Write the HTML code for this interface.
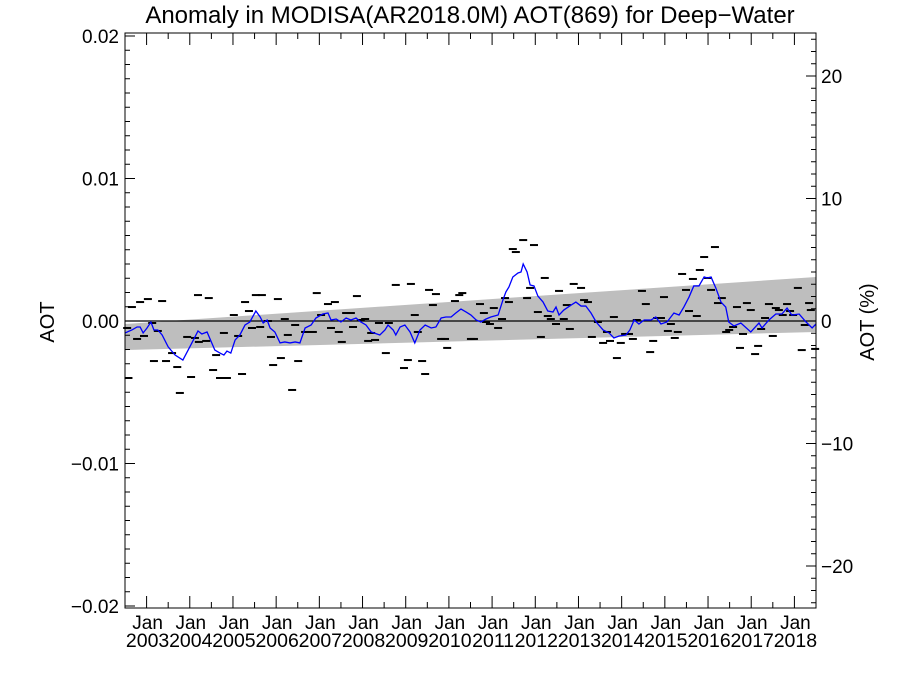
<!DOCTYPE html>
<html><head><meta charset="utf-8"><style>
body{margin:0;background:#fff}
svg{display:block;font-family:"Liberation Sans",sans-serif}
</style></head><body>
<svg id="chart" width="900" height="675">
<text x="470" y="23" text-anchor="middle" font-size="24">Anomaly in MODISA(AR2018.0M) AOT(869) for Deep−Water</text>
<text transform="translate(54,322) rotate(-90)" text-anchor="middle" font-size="20">AOT</text>
<text transform="translate(874,322) rotate(-90)" text-anchor="middle" font-size="20">AOT (%)</text>
<g id="plot"></g>
</svg>
<script>
const bandYears=[2002.5,2018.5];
const bandTop=[-0.21e-3,3.09e-3];
const bandBottom=[-2.04e-3,-0.77e-3];
const lineYears=[2002.50,2002.66,2002.78,2002.85,2002.92,2003.01,2003.10,2003.17,2003.26,2003.36,2003.50,2003.66,2003.84,2004.00,2004.12,2004.19,2004.28,2004.40,2004.58,2004.70,2004.79,2004.86,2004.95,2005.05,2005.16,2005.28,2005.39,2005.53,2005.63,2005.70,2005.79,2005.86,2005.97,2006.09,2006.20,2006.32,2006.44,2006.55,2006.67,2006.81,2006.92,2007.08,2007.20,2007.27,2007.39,2007.50,2007.62,2007.73,2007.85,2007.96,2008.08,2008.20,2008.40,2008.52,2008.59,2008.71,2008.77,2008.87,2008.98,2009.10,2009.21,2009.33,2009.45,2009.59,2009.70,2009.82,2009.93,2010.05,2010.16,2010.28,2010.40,2010.51,2010.63,2010.74,2010.86,2010.97,2011.14,2011.25,2011.32,2011.39,2011.48,2011.60,2011.67,2011.72,2011.81,2011.88,2011.97,2012.06,2012.18,2012.29,2012.41,2012.48,2012.55,2012.66,2012.83,2012.94,2013.06,2013.17,2013.29,2013.41,2013.57,2013.71,2013.82,2013.94,2014.10,2014.19,2014.29,2014.40,2014.52,2014.68,2014.79,2014.91,2015.05,2015.21,2015.33,2015.44,2015.56,2015.67,2015.79,2015.91,2015.98,2016.07,2016.18,2016.30,2016.41,2016.48,2016.60,2016.76,2016.99,2017.18,2017.25,2017.41,2017.57,2017.71,2017.83,2017.94,2018.11,2018.27,2018.41,2018.50];
const lineVals=[-0.84,-0.63,-0.42,-0.42,-0.84,-0.49,-0.07,-0.63,-0.63,-0.98,-1.82,-2.39,-2.74,-1.82,-1.12,-0.70,-0.91,-0.77,-2.04,-2.25,-2.39,-2.11,-2.25,-1.33,-0.98,-0.28,-0.07,0.70,0.28,-0.14,0.07,-0.49,-0.77,-1.54,-1.47,-1.54,-1.47,-1.54,-0.49,-0.28,0.21,0.49,0.56,0.07,0.14,-0.07,0.21,0.07,0.21,-0.07,-0.28,-0.77,-0.98,-0.63,-0.28,-0.63,-0.98,-0.42,-0.28,-0.77,-1.54,-0.63,-0.28,-0.49,-0.42,0.21,0.28,0.28,0.56,0.84,0.63,0.42,0.07,-0.07,0.14,0.28,0.42,1.47,2.04,2.39,3.09,3.37,3.44,4.00,3.44,2.53,2.46,1.75,1.33,0.70,0.63,0.98,0.42,0.77,1.12,1.33,1.05,1.05,0.56,-0.07,-0.63,-0.84,-1.19,-1.05,-0.98,-0.63,0.07,-0.21,0.07,0.07,0.28,-0.21,-0.07,0.56,0.42,0.98,1.68,2.46,2.46,3.09,3.02,3.09,2.32,1.33,0.98,-0.07,-0.35,-0.14,-0.77,-0.14,-0.49,0.07,0.49,0.49,0.91,0.42,0.49,-0.07,-0.49,-0.21];
const dashYears=[2002.55,2002.66,2002.78,2002.85,2002.94,2003.03,2003.13,2003.17,2003.26,2003.36,2003.45,2003.59,2003.71,2003.77,2003.94,2004.03,2004.12,2004.19,2004.21,2004.38,2004.44,2004.54,2004.61,2004.70,2004.86,2004.79,2005.02,2005.12,2005.21,2005.28,2005.37,2005.44,2005.53,2005.63,2005.67,2005.81,2005.88,2005.93,2006.04,2006.11,2006.20,2006.27,2006.37,2006.44,2006.51,2006.67,2006.85,2006.94,2007.04,2007.20,2007.27,2007.36,2007.45,2007.52,2007.62,2007.73,2007.78,2007.87,2007.96,2008.06,2008.13,2008.20,2008.29,2008.38,2008.54,2008.61,2008.77,2008.96,2009.05,2009.12,2009.21,2009.28,2009.38,2009.45,2009.54,2009.63,2009.70,2009.82,2009.91,2009.96,2010.14,2010.24,2010.31,2010.51,2010.58,2010.72,2010.81,2010.86,2010.95,2011.04,2011.14,2011.23,2011.30,2011.39,2011.48,2011.55,2011.72,2011.81,2011.88,2011.97,2012.06,2012.13,2012.22,2012.29,2012.36,2012.48,2012.55,2012.66,2012.73,2012.80,2012.89,2013.06,2013.13,2013.22,2013.31,2013.45,2013.57,2013.66,2013.73,2013.82,2013.89,2013.98,2014.08,2014.17,2014.26,2014.35,2014.47,2014.56,2014.66,2014.73,2014.82,2014.91,2014.98,2015.07,2015.14,2015.23,2015.30,2015.40,2015.49,2015.56,2015.65,2015.74,2015.81,2015.91,2016.00,2016.07,2016.16,2016.23,2016.32,2016.42,2016.49,2016.58,2016.67,2016.74,2016.81,2016.90,2016.99,2017.09,2017.16,2017.23,2017.32,2017.41,2017.50,2017.57,2017.64,2017.73,2017.83,2017.90,2017.97,2018.08,2018.17,2018.24,2018.34,2018.38,2018.48,2002.58];
const dashVals=[-0.49,0.98,-1.26,1.33,-1.05,1.54,-0.14,-2.81,-0.70,1.40,-2.81,-2.25,-3.23,-5.05,-1.12,-3.93,-1.19,1.82,-1.47,-1.40,1.61,-3.44,-2.39,-4.00,-4.00,-0.84,0.42,-1.05,-3.72,1.33,0.70,-0.49,1.82,-0.42,1.82,0.00,-1.12,-3.09,1.54,-2.60,0.14,-0.98,-4.84,-0.28,-2.81,-0.77,-0.77,1.96,0.42,1.19,-0.49,1.33,-0.77,-1.47,0.56,0.56,-0.42,1.75,0.07,0.14,-1.40,-0.84,-1.33,-0.14,-2.25,-0.14,2.53,-3.30,-2.74,2.60,0.42,-0.77,-2.81,-3.72,2.18,1.12,1.89,-1.26,-1.26,-1.89,1.40,1.82,1.96,-1.26,-1.26,1.19,0.56,-0.07,-0.21,0.91,-0.49,0.14,1.61,1.33,5.05,4.84,5.68,1.61,2.32,5.33,0.63,-1.12,3.02,0.35,0.14,-0.21,2.11,0.14,1.12,-0.56,2.60,2.32,1.47,1.33,-1.12,-0.07,-1.54,-0.77,-1.40,0.28,-2.60,-1.54,-0.91,-0.91,-1.26,0.07,2.11,1.19,-2.18,-1.40,0.21,0.21,1.68,-0.70,-0.21,-1.19,-0.77,3.30,2.18,0.70,2.95,0.35,3.58,4.49,3.02,2.18,5.19,1.26,1.61,-0.77,-0.63,-0.42,0.98,-1.89,-0.91,1.26,0.77,-2.32,-1.75,-0.56,0.21,1.19,-1.05,0.91,0.77,0.42,1.19,0.70,0.42,2.32,-2.04,-0.28,1.26,0.77,-1.96,-4.0];
const leftTicks=[0.02,0.01,0.00,-0.01,-0.02];
const leftLabels=["0.02","0.01","0.00","−0.01","−0.02"];
const rightTicks=[20,10,0,-10,-20];
const rightLabels=["20","10","0","−10","−20"];
const xTickYears=[2003,2004,2005,2006,2007,2008,2009,2010,2011,2012,2013,2014,2015,2016,2017,2018];

const L=125,R=816,T=33,B=608;
const X0=2002.5,X1=2018.5;
const sx=t=>L+(t-X0)/(X1-X0)*(R-L);
const sy=v=>321-v*14250;
const sp=p=>321-p*12.25;
const g=document.getElementById('plot');
const NS='http://www.w3.org/2000/svg';
function mk(tag,attrs,parent){const e=document.createElementNS(NS,tag);for(const k in attrs)e.setAttribute(k,attrs[k]);(parent||g).appendChild(e);return e;}

const band=mk('polygon',{points:`${sx(bandYears[0])},${sy(bandTop[0])} ${sx(bandYears[1])},${sy(bandTop[1])} ${sx(bandYears[1])},${sy(bandBottom[1])} ${sx(bandYears[0])},${sy(bandBottom[0])}`,fill:'#bebebe'});


const zl=mk('line',{x1:L,x2:R,y1:sy(0),y2:sy(0),stroke:'#000','stroke-width':1.3});


const dg=mk('g',{});


dashYears.forEach((t,i)=>{const x=sx(t),y=sy(dashVals[i]*1e-3);
const d=mk('rect',{x:x-4,y:y-1,width:8,height:2,fill:'#000'},dg);

});
const pl=mk('polyline',{points:lineYears.map((t,i)=>sx(t)+','+sy(lineVals[i]*1e-3)).join(' '),fill:'none',stroke:'#0000ff','stroke-width':1.3});


const fr=mk('rect',{x:L,y:T,width:R-L,height:B-T,fill:'none',stroke:'#000','stroke-width':1});


for(let k=-20;k<=20;k++){const y=sy(k*0.001);if(y<T||y>B)continue;const len=(k%10===0)?10:5;
mk('line',{x1:L,x2:L+len,y1:y,y2:y,stroke:'#000'});}
leftTicks.forEach((v,i)=>{const t=mk('text',{x:L-6,y:sy(v)+7,'text-anchor':'end','font-size':19});t.textContent=leftLabels[i];

});
for(let p=-23;p<=23;p++){const y=sp(p);if(y<T||y>B)continue;const len=(p%10===0)?10:5;
mk('line',{x1:R-len,x2:R,y1:y,y2:y,stroke:'#000'});}
rightTicks.forEach((v,i)=>{const t=mk('text',{x:R+5,y:sp(v)+7,'text-anchor':'start','font-size':19});t.textContent=rightLabels[i];

});
for(let yr=2002;yr<=2018;yr++){[0,0.5].forEach(f=>{const t=yr+f;if(t<X0||t>X1)return;const x=sx(t);const len=f===0?12:6;
mk('line',{x1:x,x2:x,y1:B,y2:B-len,stroke:'#000'});mk('line',{x1:x,x2:x,y1:T,y2:T+len,stroke:'#000'});});}
xTickYears.forEach(yr=>{const x=sx(yr)+1;
const a=mk('text',{x:x,y:629,'text-anchor':'middle','font-size':19});a.textContent='Jan';


const b=mk('text',{x:x,y:647,'text-anchor':'middle','font-size':19.5});b.textContent=String(yr);

});
</script>
</body></html>
